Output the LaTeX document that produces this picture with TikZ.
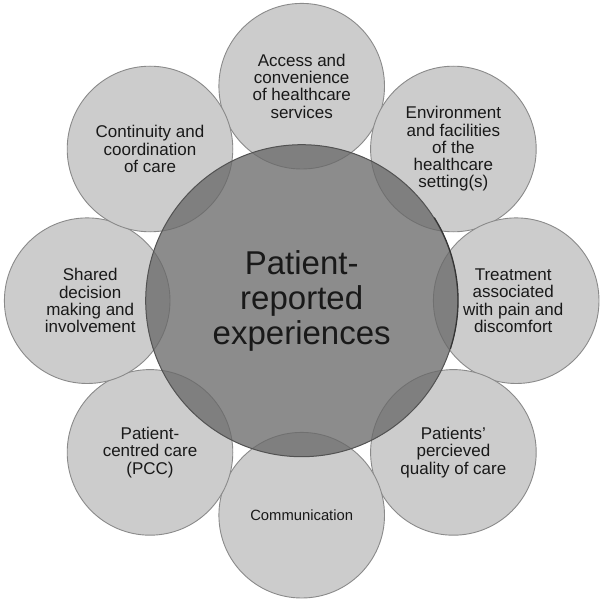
\documentclass[tikz,border=0pt]{standalone}
\usepackage{fontspec}
\setmainfont{Liberation Sans}
\definecolor{petalfill}{gray}{0.80}
\definecolor{petaledge}{gray}{0.54}
\definecolor{centrefill}{gray}{0.41}
\definecolor{centreedge}{gray}{0.32}
\definecolor{txt}{gray}{0.10}
\begin{document}
\begin{tikzpicture}[x=1pt,y=-1pt,
  petal/.style={circle, minimum size=165.6pt, inner sep=0pt, fill=petalfill,
    draw=petaledge, line width=0.9pt, align=center, text=txt,
    font=\fontsize{17}{17.3}\selectfont},
  hub/.style={circle, minimum size=312pt, inner sep=0pt, fill=centrefill,
    fill opacity=0.77, text opacity=1, draw=centreedge, line width=1pt,
    align=center, text=txt, font=\fontsize{33}{35}\selectfont},
  rim/.style={draw=black!80, line width=1.1pt, line cap=round}]
\useasboundingbox (0,0) rectangle (605,604);
\node[petal] (access) at (301.7,86.2) {Access and\\convenience\\of healthcare\\services};
\node[petal] (env) at (453.4,149.0) {Environment\\and facilities\\of the\\healthcare\\setting(s)};
\node[petal] (treat) at (516.2,300.7) {\hspace*{-6pt}Treatment\\\hspace*{-6pt}associated\\\hspace*{-6pt}with pain and\\\hspace*{-6pt}discomfort};
\node[petal] (qual) at (453.4,452.4) {Patients'\\percieved\\quality of care};
\node[petal, font=\fontsize{14.8}{16}\selectfont] (comm) at (301.7,515.2) {Communication};
\node[petal] (pcc) at (150.0,452.4) {Patient-\\centred care\\(PCC)};
\node[petal] (shared) at (87.2,300.7) {\hspace*{6pt}Shared\\\hspace*{6pt}decision\\\hspace*{6pt}making and\\\hspace*{6pt}involvement};
\node[petal] (cont) at (150.0,149.0) {Continuity and\\coordination\\of care};
\node[hub] (hubnode) at (301.7,300.7) {Patient-\\reported\\experiences};
\draw[rim] (hubnode.32) arc[start angle=32, end angle=-18, radius=156pt];
\end{tikzpicture}
\end{document}
